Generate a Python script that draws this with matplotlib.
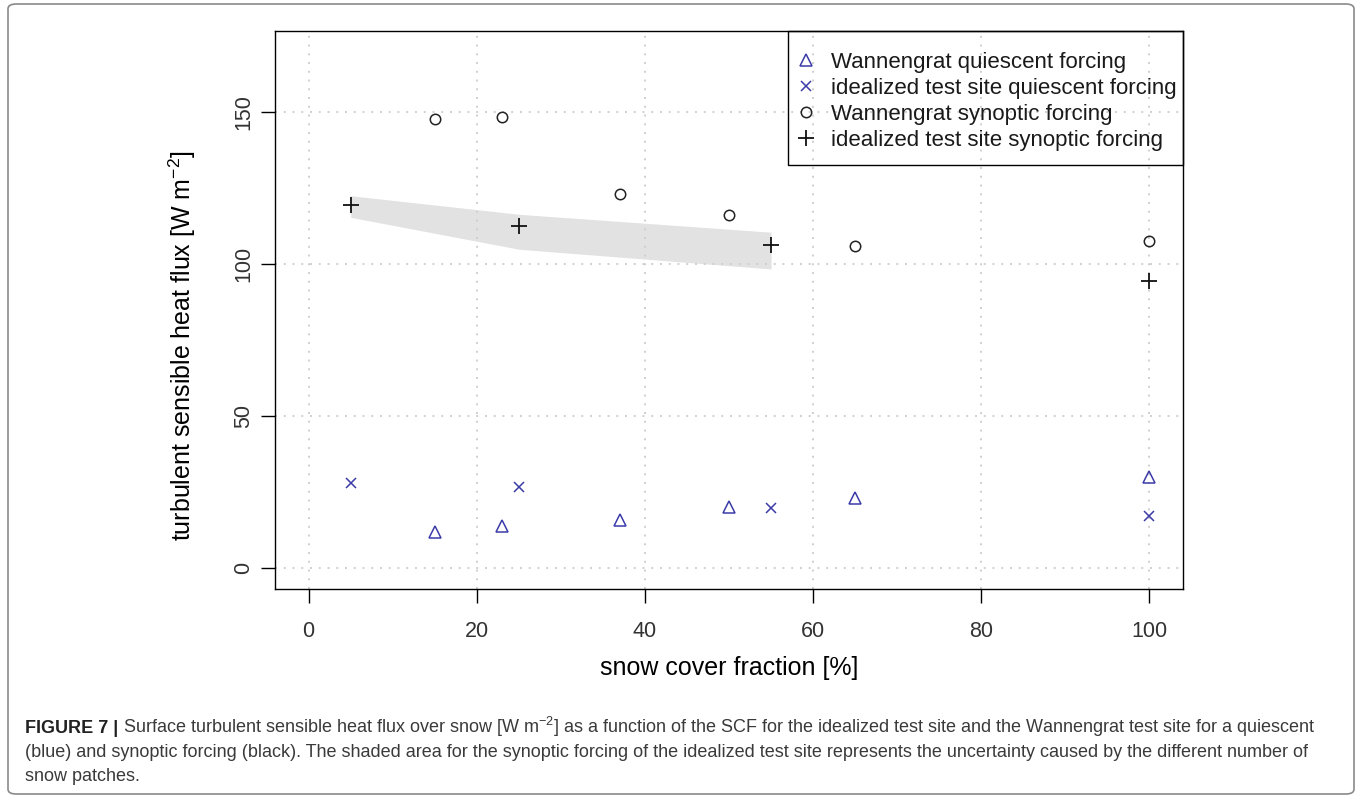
import matplotlib
matplotlib.use('Agg')
import matplotlib.pyplot as plt
from matplotlib.lines import Line2D
from matplotlib.patches import FancyBboxPatch, Rectangle

plt.rcParams['font.family'] = ['Liberation Sans', 'DejaVu Sans']
plt.rcParams['mathtext.fontset'] = 'custom'
plt.rcParams['mathtext.rm'] = 'Liberation Sans'
plt.rcParams['mathtext.it'] = 'Liberation Sans:italic'

# data
scf_wannengrat = [15, 23, 37, 50, 65, 100]
wannengrat_quiescent = [12.0, 13.8, 15.9, 20.1, 23.2, 30.0]
wannengrat_synoptic = [148.0, 148.6, 123.2, 116.4, 105.9, 107.7]

scf_ideal = [5, 25, 55, 100]
ideal_quiescent = [28.0, 26.8, 19.8, 17.2]
ideal_synoptic = [119.6, 112.7, 106.4, 94.4]

shade_scf = [5, 25, 55]
shade_low = [115.5, 105.0, 98.5]
shade_high = [122.6, 116.5, 110.6]

x_ticks = [0, 20, 40, 60, 80, 100]
y_ticks = [0, 50, 100, 150]

W, H = 1358, 796
blue = '#3b3ba8'

def fx(px):
    return px / W

def fy(py):
    return 1 - py / H

fig = plt.figure(figsize=(W / 100, H / 100), dpi=100)

# outer frame
frame = FancyBboxPatch((fx(8), fy(794)), fx(1354) - fx(8), fy(4) - fy(794),
                       boxstyle='round,pad=0,rounding_size=0.006',
                       transform=fig.transFigure, fill=False,
                       edgecolor='#8a8a8a', linewidth=1.2)
fig.patches.append(frame)

ax = fig.add_axes([fx(275), fy(589), fx(1183) - fx(275), fy(31) - fy(589)])

# shaded uncertainty band
ax.fill_between(shade_scf, shade_low, shade_high, color='#e2e2e2',
                linewidth=0, zorder=0.3)

ax.set_xlim(-4, 104)
ax.set_ylim(-6.8, 176.8)
ax.set_xticks(x_ticks)
ax.set_yticks(y_ticks)
ax.grid(True, color='#cfcfcf', linestyle=(0, (1, 3.5)), linewidth=1.4)
ax.set_axisbelow(True)

ax.plot(scf_wannengrat, wannengrat_quiescent, linestyle='none', marker='^',
        markersize=9, markerfacecolor='none', markeredgecolor=blue, mew=1.1)
ax.plot(scf_ideal, ideal_quiescent, linestyle='none', marker='x',
        markersize=7.5, color=blue, mew=1.1)
ax.plot(scf_wannengrat, wannengrat_synoptic, linestyle='none', marker='o',
        markersize=7.5, markerfacecolor='none', markeredgecolor='#222222', mew=1.1)
ax.plot(scf_ideal, ideal_synoptic, linestyle='none', marker='+',
        markersize=11, color='#111111', mew=1.3)

for s in ax.spines.values():
    s.set_linewidth(1.0)
    s.set_color('black')

ax.tick_params(axis='both', direction='out', length=10, width=1.0,
               labelsize=15.5, labelcolor='#333333')
ax.tick_params(axis='x', pad=13)
ax.tick_params(axis='y', pad=5)
for lab in ax.get_yticklabels():
    lab.set_rotation(90)
    lab.set_va('center')

fig.text(fx(729), fy(668), 'snow cover fraction [%]', fontsize=18,
         ha='center', va='center')
fig.text(fx(182), fy(150), 'turbulent sensible heat flux [W m$^{-2}$]',
         fontsize=18, ha='center', va='top', rotation=90)

# legend
handles = [
    Line2D([], [], linestyle='none', marker='^', markersize=9,
           markerfacecolor='none', markeredgecolor=blue, mew=1.1),
    Line2D([], [], linestyle='none', marker='x', markersize=7.5,
           color=blue, mew=1.1),
    Line2D([], [], linestyle='none', marker='o', markersize=7.5,
           markerfacecolor='none', markeredgecolor='#222222', mew=1.1),
    Line2D([], [], linestyle='none', marker='+', markersize=11,
           color='#111111', mew=1.3),
]
labels = ['Wannengrat quiescent forcing',
          'idealized test site quiescent forcing',
          'Wannengrat synoptic forcing',
          'idealized test site synoptic forcing']
x0 = (788 - 275) / (1183 - 275)
y0 = (589 - 165) / (589 - 31)
leg = ax.legend(handles, labels, loc='upper left',
                bbox_to_anchor=(x0, 1.0 - 14 / 558),
                borderaxespad=0, frameon=False, fontsize=16,
                handlelength=1.0, handletextpad=0.6, borderpad=0.32,
                labelspacing=0.22)
for t in leg.get_texts():
    t.set_color('#1a1a1a')
ax.add_patch(Rectangle((x0, y0), 1 - x0, 1 - y0, transform=ax.transAxes,
                       fill=False, edgecolor='black', linewidth=1.0,
                       clip_on=False, zorder=6))

# caption
cap_size = 12.95
cap_color = '#3a3a3a'
bold = fig.text(fx(25), fy(733), 'FIGURE 7 |', fontsize=cap_size,
                fontweight='bold', color='#222222', va='baseline')
fig.canvas.draw()
bb = bold.get_window_extent()
fig.text((bb.x1 + 5) / W, fy(733),
         'Surface turbulent sensible heat flux over snow [W m$^{-2}$] as a function '
         'of the SCF for the idealized test site and the Wannengrat test site '
         'for a quiescent', fontsize=cap_size, color=cap_color, va='baseline')
fig.text(fx(25), fy(757),
         '(blue) and synoptic forcing (black). The shaded area for the synoptic '
         'forcing of the idealized test site represents the uncertainty caused '
         'by the different number of', fontsize=cap_size, color=cap_color,
         va='baseline')
fig.text(fx(25), fy(781), 'snow patches.', fontsize=cap_size,
         color=cap_color, va='baseline')

fig.savefig('out.png', dpi=100)
